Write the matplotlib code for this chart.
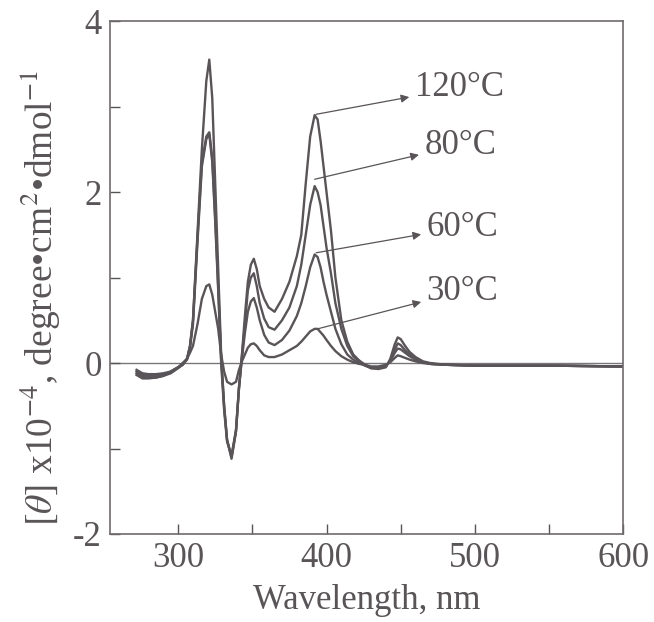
import numpy as np
import matplotlib
matplotlib.use("Agg")
import matplotlib.pyplot as plt
from matplotlib.ticker import MultipleLocator

# wavelength grid (nm)
wl = [272, 276, 280, 285, 290, 295, 300, 303, 306, 308, 310, 313, 316, 319, 321, 323, 325, 327, 329, 331,
      333, 336, 339, 341, 343, 345, 347, 349, 351, 353, 355, 358, 361, 365, 370, 375, 380, 383, 386, 389,
      392, 394, 396, 398, 400, 403, 406, 410, 414, 418, 422, 426, 430, 435, 440, 443, 446, 448, 450, 453,
      456, 460, 465, 470, 480, 500, 550, 600]

# [theta] x 1e-4 for each temperature
cd_120 = [-0.08, -0.12, -0.13, -0.13, -0.12, -0.10, -0.05, -0.02, 0.05, 0.20, 0.50, 1.50, 2.50, 3.30, 3.55, 3.10, 2.10, 1.10, 0.10, -0.50,
          -0.90, -1.12, -0.80, -0.30, 0.10, 0.55, 0.95, 1.15, 1.22, 1.10, 0.90, 0.75, 0.65, 0.60, 0.75, 0.95, 1.25, 1.50, 2.10, 2.65,
          2.90, 2.85, 2.60, 2.30, 2.00, 1.55, 1.00, 0.50, 0.25, 0.10, 0.03, -0.02, -0.06, -0.07, -0.05, 0.05, 0.22, 0.30, 0.28, 0.20,
          0.13, 0.07, 0.02, 0.00, -0.02, -0.03, -0.03, -0.04]
cd_80 = [-0.12, -0.16, -0.17, -0.17, -0.15, -0.12, -0.06, -0.02, 0.05, 0.20, 0.50, 1.45, 2.35, 2.65, 2.70, 2.40, 1.70, 0.90, 0.05, -0.50,
         -0.90, -1.10, -0.80, -0.30, 0.08, 0.45, 0.85, 1.00, 1.05, 0.90, 0.70, 0.52, 0.42, 0.39, 0.50, 0.65, 0.90, 1.15, 1.50, 1.85,
         2.07, 2.00, 1.85, 1.60, 1.35, 1.05, 0.70, 0.40, 0.20, 0.08, 0.02, -0.03, -0.06, -0.06, -0.04, 0.03, 0.16, 0.23, 0.21, 0.15,
         0.10, 0.05, 0.01, -0.01, -0.02, -0.03, -0.03, -0.04]
cd_60 = [-0.10, -0.14, -0.15, -0.15, -0.14, -0.10, -0.05, -0.02, 0.04, 0.18, 0.45, 1.40, 2.30, 2.62, 2.68, 2.35, 1.65, 0.85, 0.00, -0.55,
         -0.92, -1.08, -0.78, -0.28, 0.05, 0.35, 0.60, 0.72, 0.76, 0.65, 0.50, 0.33, 0.24, 0.21, 0.27, 0.38, 0.55, 0.70, 0.90, 1.12,
         1.27, 1.24, 1.12, 0.95, 0.80, 0.60, 0.40, 0.22, 0.10, 0.04, 0.00, -0.03, -0.05, -0.05, -0.03, 0.02, 0.12, 0.17, 0.16, 0.12,
         0.08, 0.04, 0.01, -0.01, -0.02, -0.03, -0.03, -0.04]
cd_30 = [-0.14, -0.18, -0.18, -0.17, -0.15, -0.10, -0.05, 0.00, 0.05, 0.12, 0.20, 0.45, 0.75, 0.90, 0.92, 0.80, 0.60, 0.40, 0.10, -0.10,
         -0.22, -0.25, -0.22, -0.08, 0.02, 0.10, 0.18, 0.22, 0.23, 0.20, 0.15, 0.09, 0.07, 0.07, 0.10, 0.15, 0.20, 0.25, 0.31, 0.37,
         0.40, 0.40, 0.36, 0.32, 0.27, 0.20, 0.14, 0.08, 0.04, 0.01, -0.01, -0.02, -0.04, -0.04, -0.02, 0.01, 0.06, 0.09, 0.08, 0.06,
         0.04, 0.02, 0.00, -0.01, -0.02, -0.03, -0.03, -0.04]

labels = ["120°C", "80°C", "60°C", "30°C"]
# where each arrow starts (on the curve) and where its label sits
arrow_from = [(393, 2.91), (392, 2.15), (393, 1.29), (394, 0.40)]
label_at = [(459.5, 3.22), (466, 2.55), (467.5, 1.59), (467.5, 0.84)]

ink = "#595457"
plt.rcParams["font.family"] = ["Liberation Serif", "DejaVu Serif"]
plt.rcParams["mathtext.fontset"] = "stix"

fig = plt.figure(figsize=(6.54, 6.22), dpi=100)
ax = fig.add_axes([0.168, 0.1415, 0.785, 0.8245])

for ys in [cd_120, cd_80, cd_60, cd_30]:
    ax.plot(wl, ys, color=ink, lw=1.7)
ax.axhline(0, color="#7a7679", lw=1.0, zorder=0)

for lab, p0, p1 in zip(labels, arrow_from, label_at):
    ax.annotate(lab, xy=p0, xytext=p1, ha="left", va="center", fontsize=25, color=ink,
                arrowprops=dict(arrowstyle="<|-", color=ink, lw=0.9, mutation_scale=12,
                                shrinkA=2, shrinkB=0))

ax.set_xlim(254, 600)
ax.set_ylim(-2, 4)
ax.xaxis.set_major_locator(MultipleLocator(100))
ax.xaxis.set_minor_locator(MultipleLocator(50))
ax.yaxis.set_major_locator(MultipleLocator(2))
ax.yaxis.set_minor_locator(MultipleLocator(1))
ax.tick_params(which="both", direction="in", length=7, width=1, color=ink,
               labelsize=25, labelcolor=ink, pad=6)
ax.set_yticks([-2, 0, 2, 4], ["-2", "0", "2", "4"])
for s in ax.spines.values():
    s.set_color("#6e6a6d")
    s.set_linewidth(1.2)

ax.set_xlabel("Wavelength, nm", fontsize=25, color=ink, labelpad=6)
ax.set_ylabel(r"$[\theta]$ x10$^{-4}$, degree•cm$^{2}$•dmol$^{-1}$", fontsize=27, color=ink)
ax.yaxis.set_label_coords(-0.092, 0.46)

fig.savefig("out.png", dpi=100)
